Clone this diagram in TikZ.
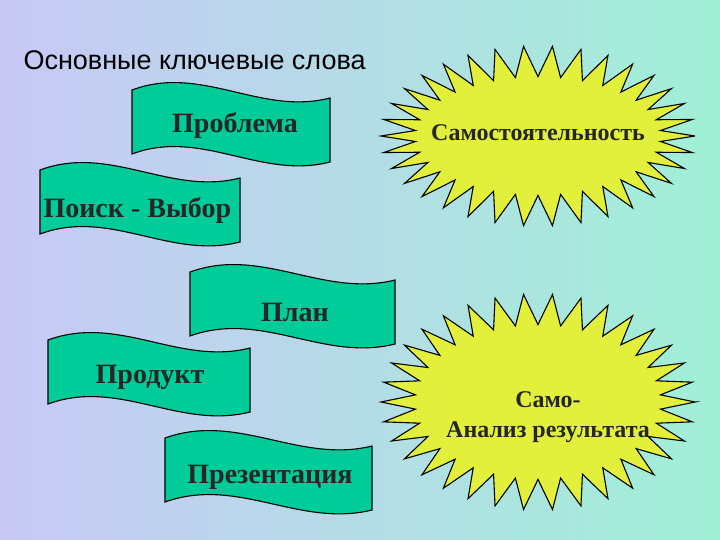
\documentclass[tikz,border=0pt]{standalone}
\usepackage{fontspec}
\setmainfont{Liberation Serif}
\newfontfamily\arial{Liberation Sans}
\begin{document}
\begin{tikzpicture}[x=1pt,y=-1pt,
  banner/.style={fill=bannercol,draw=black,line width=1.1pt},
  burst/.style={fill=burstcol,draw=black,line width=1.1pt,line join=miter},
  btext/.style={font=\bfseries\fontsize{28}{32}\selectfont,text=black!85},
  stext/.style={font=\bfseries\fontsize{24}{30}\selectfont,text=black!85,align=center}]
\definecolor{bannercol}{RGB}{0,204,153}
\definecolor{burstcol}{RGB}{226,240,60}
\definecolor{bgl}{RGB}{200,200,246}
\definecolor{bgr}{RGB}{160,240,214}
\useasboundingbox (0,0) rectangle (720,540);
\shade[left color=bgl,right color=bgr] (0,0) rectangle (720,540);
\newcommand{\wavebanner}[4]{% x0,y0,w,h
  \draw[banner] (#1,#2) .. controls ({#1+#3*0.35},{#2-26}) and ({#1+#3*0.65},{#2+26}) .. ({#1+#3},{#2+8})
   -- ({#1+#3},{#2+8+#4}) .. controls ({#1+#3*0.65},{#2+#4+26}) and ({#1+#3*0.35},{#2+#4-26}) .. (#1,{#2+#4}) -- cycle;}
\newcommand{\burstshape}[5]{% cx,cy,rx,ry,spike
  \draw[burst] plot[samples=69,domain=0:360,variable=\t]
   ({#1+(#3-#5*mod(round(\t/5.294118),2))*cos(\t)},{#2+(#4-#5*0.9*mod(round(\t/5.294118),2))*sin(\t)}) -- cycle;}
\node[font=\arial\fontsize{27}{30}\selectfont,anchor=west] (title) at (20,60) {Основные ключевые слова};
\wavebanner{132}{90}{198}{64}
\node[btext] (p1) at (235,125) {Проблема};
\wavebanner{40}{170}{200}{64}
\node[btext,anchor=west] (p2) at (40,210) {Поиск - Выбор};
\wavebanner{190}{272}{205}{64}
\node[btext] (p3) at (295,312) {План};
\wavebanner{48}{340}{202}{64}
\node[btext] (p4) at (150,377) {Продукт};
\wavebanner{165}{438}{207}{64}
\node[btext] (p5) at (270,477) {Презентация};
\burstshape{538}{136}{157}{90}{34}
\node[stext] (s1) at (538,133) {Самостоятельность};
\burstshape{538}{402}{157}{108}{34}
\node[stext] (s2) at (548,417) {Само-\\Анализ результата};
\end{tikzpicture}
\end{document}
